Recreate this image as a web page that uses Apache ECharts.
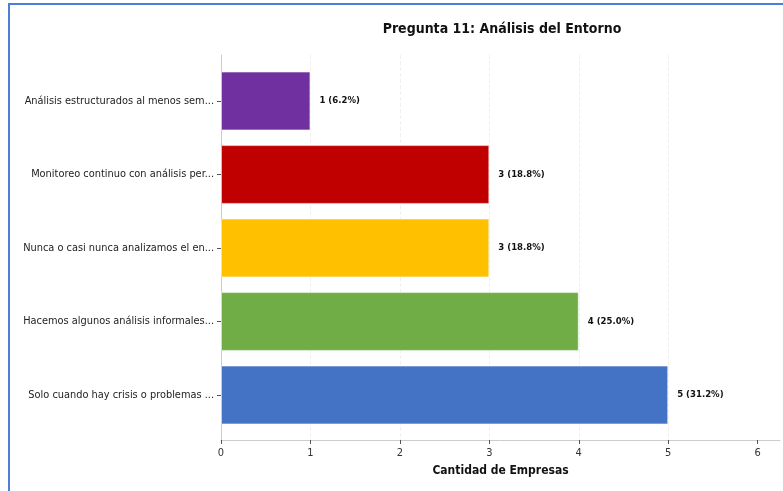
<!DOCTYPE html>
<html>
<head>
<meta charset="utf-8">
<script src="https://cdn.jsdelivr.net/npm/echarts@6/dist/echarts.min.js"></script>
<style>
  html, body { margin: 0; padding: 0; background: #fff; }
  #chart { width: 783px; height: 491px; }
</style>
</head>
<body>
<div id="chart"></div>
<script>
// Answers to question 11, listed bottom to top
const categories = [
  'Solo cuando hay crisis o problemas ...',
  'Hacemos algunos análisis informales...',
  'Nunca o casi nunca analizamos el en...',
  'Monitoreo continuo con análisis per...',
  'Análisis estructurados al menos sem...'
];
const counts = [5, 4, 3, 3, 1];
const percents = ['31.2', '25.0', '18.8', '18.8', '6.2'];
const barColors = ['#4472C4', '#70AD47', '#FFC000', '#C00000', '#7030A0'];
const xTicks = [0, 1, 2, 3, 4, 5, 6];

const FONT = '"DejaVu Sans Condensed", "DejaVu Sans", sans-serif';
const chart = echarts.init(document.getElementById('chart'));

const plotLeft = 221, plotRight = 3;

chart.setOption({
  backgroundColor: '#fff',
  animation: false,
  title: {
    text: 'Pregunta 11: Análisis del Entorno',
    left: 497, top: 17, textAlign: 'center',
    textStyle: { fontFamily: FONT, fontSize: 14, fontWeight: 'bold', color: '#111' }
  },
  graphic: [{
    type: 'rect', silent: true, z: 100,
    shape: { x: 9, y: 4, width: 900, height: 600 },
    style: { fill: 'none', stroke: '#4d7fd6', lineWidth: 2 }
  }],
  grid: [
    // frame: spines, x ticks and grid lines
    { left: plotLeft, right: plotRight, top: 55, height: 385 },
    // bars: five equal bands
    { left: plotLeft, right: plotRight, top: 64.25, height: 367.5 }
  ],
  xAxis: [{
    gridIndex: 0, type: 'value', min: 0, max: 6.25, interval: 1,
    name: 'Cantidad de Empresas', nameLocation: 'middle', nameGap: 25,
    nameTextStyle: { fontFamily: FONT, fontSize: 12, fontWeight: 'bold', color: '#111' },
    axisLine: { show: true, lineStyle: { color: '#cccccc', width: 1 } },
    axisTick: { show: true, length: 4, customValues: xTicks, lineStyle: { color: '#555' } },
    axisLabel: {
      fontFamily: FONT, fontSize: 11, color: '#333', margin: 8,
      customValues: xTicks
    },
    splitLine: { show: true, showMaxLine: false, showMinLine: false,
      lineStyle: { color: '#f0f0f0', type: 'dashed', width: 1 } }
  }, {
    gridIndex: 1, type: 'value', min: 0, max: 6.25, show: false
  }],
  yAxis: [{
    gridIndex: 0, type: 'value', min: 0, max: 1,
    axisLine: { show: true, lineStyle: { color: '#cccccc', width: 1 } },
    axisTick: { show: false }, axisLabel: { show: false }, splitLine: { show: false }
  }, {
    gridIndex: 1, type: 'category', data: categories,
    axisLine: { show: false },
    axisTick: { show: true, alignWithLabel: true, length: 4, lineStyle: { color: '#555' } },
    axisLabel: { fontFamily: FONT, fontSize: 10.9, color: '#222', margin: 7 },
    splitLine: { show: false }
  }],
  series: [{
    type: 'bar', xAxisIndex: 1, yAxisIndex: 1,
    barCategoryGap: '20%',
    data: counts.map((v, i) => ({ value: v, itemStyle: { color: barColors[i] } })),
    itemStyle: { borderColor: 'rgba(255,255,255,0.5)', borderWidth: 1 },
    label: {
      show: true, position: 'right', distance: 9,
      fontFamily: FONT, fontSize: 9.5, fontWeight: 'bold', color: '#111',
      formatter: p => counts[p.dataIndex] + ' (' + percents[p.dataIndex] + '%)'
    }
  }]
});
</script>
</body>
</html>
